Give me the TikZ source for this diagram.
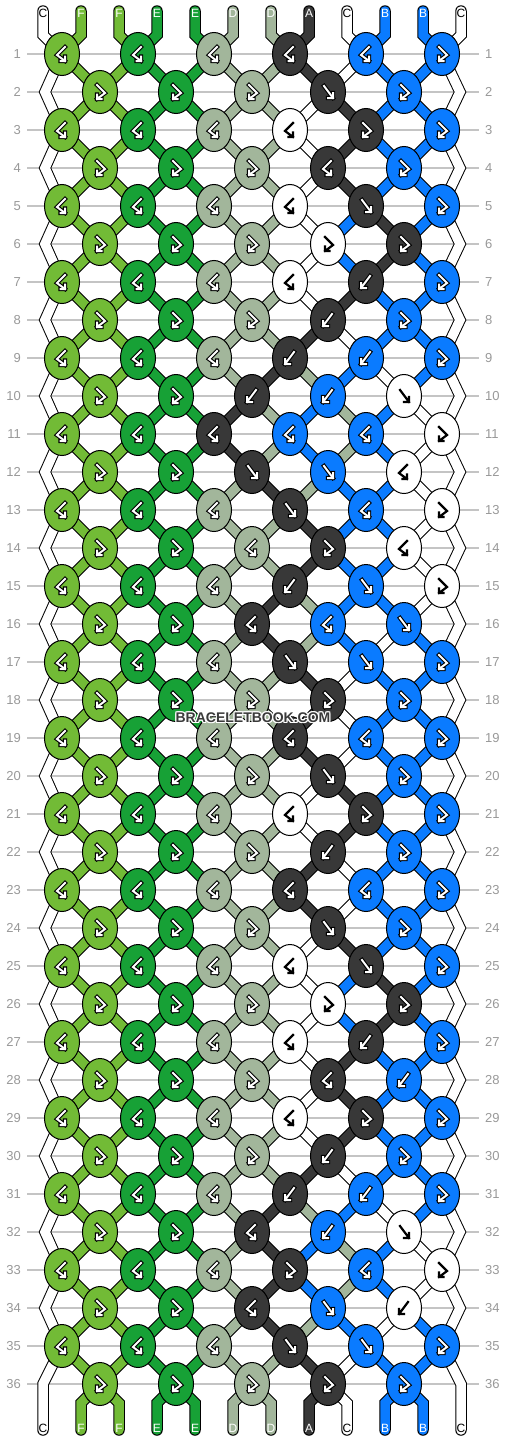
\documentclass[tikz,border=0pt]{standalone}
\usepackage{fontspec}
\setmainfont{Liberation Sans}
\usetikzlibrary{shapes.geometric}

\definecolor{colC}{HTML}{FFFFFF}
\definecolor{colF}{HTML}{72BB36}
\definecolor{colE}{HTML}{17A136}
\definecolor{colD}{HTML}{A2B69B}
\definecolor{colA}{HTML}{383838}
\definecolor{colB}{HTML}{0A7BFF}
\definecolor{rowgrey}{HTML}{C4C4C4}
\definecolor{numgrey}{HTML}{999999}
\definecolor{wmgrey}{HTML}{3A3A3A}

\pgfdeclarelayer{paper}
\pgfdeclarelayer{threads}
\pgfsetlayers{paper,threads,main}

\newcommand{\symdraw}[1]{\draw [symout] #1; \draw [symin] #1;}
\newcommand{\markf}{\symdraw{(-4,-6) -- (5,6) (0,6) -- (5,6) -- (5,1)}}
\newcommand{\markb}{\symdraw{(4,-6) -- (-5,6) (0,6) -- (-5,6) -- (-5,1)}}
\newcommand{\markfb}{\symdraw{(-3,-7) -- (5,1) -- (-3,7) (-3,2.5) -- (-3,7) -- (1.5,7)}}
\newcommand{\markbf}{\symdraw{(3,-7) -- (-5,1) -- (3,7) (3,2.5) -- (3,7) -- (-1.5,7)}}
\newcommand{\knotmark}[3]{%
	\begin{scope}[shift={(#1.center)}, pen #2]
		\csname mark#3\endcsname
	\end{scope}}

% one row of knots: row, colour/type of each knot
\newcommand{\knotrow}[2]{%
	\pgfmathsetmacro\ky{54+38*(#1-1)}%
	\pgfmathtruncatemacro\odd{mod(#1,2)}%
	\pgfmathsetmacro\kx{\odd==1 ? 62 : 100}%
	\foreach \kc/\kt [count=\kn] in {#2} {
		\node [knot=\kc] (k-#1-\kn) at (\kx+76*\kn-76,\ky) {};
		\knotmark{k-#1-\kn}{\kc}{\kt}
	}
	\ifnum\odd=1
		\coordinate (L-#1) at (k-#1-1.center);
		\coordinate (R-#1) at (k-#1-6.center);
	\else
		\coordinate (L-#1) at (45,\ky);
		\coordinate (R-#1) at (460,\ky);
	\fi
}

% threads below a row: row, colours in places 2 to 11
\newcommand{\threadrow}[2]{%
	\pgfmathtruncatemacro\rn{#1+1}%
	\pgfmathtruncatemacro\odd{mod(#1,2)}%
	\foreach \kc [count=\pl from 2] in {#2} {
		\pgfmathtruncatemacro\ka{\odd==1 ? (\pl+1)/2 : \pl/2}
		\pgfmathtruncatemacro\kb{\odd==1 ? \pl/2 : (\pl+1)/2}
		\draw [thread=\kc] (k-#1-\ka.center) -- (k-\rn-\kb.center);
	}
}

\tikzset{
	knot/.style={ellipse, draw=black, line width=1pt, fill=col#1, minimum width=35pt, minimum height=43pt, inner sep=0pt},
	thread/.style={draw=black, line width=1pt, double=col#1, double distance=9.5pt},
	rowline/.style={draw=rowgrey, line width=1.2pt},
	rownum/.style={text=numgrey, font=\fontsize{13}{13}\selectfont, inner sep=0pt},
	lab/.style={font=\fontsize{12}{12}\selectfont, inner sep=0pt, text=white},
	lab C/.style={text=black}, lab F/.style={}, lab E/.style={}, lab D/.style={}, lab A/.style={}, lab B/.style={},
	symout/.style={draw=black, line width=4.2pt, line cap=rect},
	symin/.style={draw=white, line width=2pt, line cap=rect},
	pen C/.style={symout/.style={draw=none}, symin/.style={draw=black, line width=2.2pt, line cap=rect}},
	pen F/.style={}, pen E/.style={}, pen D/.style={}, pen A/.style={}, pen B/.style={},
	wmtext/.style={font=\bfseries\fontsize{14}{14}\selectfont, inner sep=0pt},
}

\begin{document}
\begin{tikzpicture}[x=1pt, y=-1pt]
	\begin{pgfonlayer}{paper}
		\fill [white] (0,0) rectangle (506,1440);
	\end{pgfonlayer}
	\useasboundingbox (0,0) rectangle (506,1440);
	
	% knots
	\knotrow{1}{F/bf,E/bf,D/bf,A/bf,B/bf,B/fb}
	\knotrow{2}{F/fb,E/fb,D/fb,A/f,B/fb}
	\knotrow{3}{F/bf,E/bf,D/bf,C/bf,A/fb,B/fb}
	\knotrow{4}{F/fb,E/fb,D/fb,A/bf,B/fb}
	\knotrow{5}{F/bf,E/bf,D/bf,C/bf,A/f,B/fb}
	\knotrow{6}{F/fb,E/fb,D/fb,C/fb,A/fb}
	\knotrow{7}{F/bf,E/bf,D/bf,C/bf,A/b,B/fb}
	\knotrow{8}{F/fb,E/fb,D/fb,A/b,B/fb}
	\knotrow{9}{F/bf,E/bf,D/bf,A/b,B/b,B/fb}
	\knotrow{10}{F/fb,E/fb,A/b,B/b,C/f}
	\knotrow{11}{F/bf,E/bf,A/bf,B/bf,B/bf,C/fb}
	\knotrow{12}{F/fb,E/fb,A/f,B/f,C/bf}
	\knotrow{13}{F/bf,E/bf,D/bf,A/f,B/bf,C/fb}
	\knotrow{14}{F/fb,E/fb,D/bf,A/fb,C/bf}
	\knotrow{15}{F/bf,E/bf,D/bf,A/b,B/f,C/fb}
	\knotrow{16}{F/fb,E/fb,A/bf,B/bf,B/f}
	\knotrow{17}{F/bf,E/bf,D/bf,A/f,B/f,B/fb}
	\knotrow{18}{F/fb,E/fb,D/fb,A/fb,B/fb}
	\knotrow{19}{F/bf,E/bf,D/bf,A/bf,B/bf,B/fb}
	\knotrow{20}{F/fb,E/fb,D/fb,A/f,B/fb}
	\knotrow{21}{F/bf,E/bf,D/bf,C/bf,A/fb,B/fb}
	\knotrow{22}{F/fb,E/fb,D/fb,A/b,B/fb}
	\knotrow{23}{F/bf,E/bf,D/bf,A/bf,B/bf,B/fb}
	\knotrow{24}{F/fb,E/fb,D/fb,A/f,B/fb}
	\knotrow{25}{F/bf,E/bf,D/bf,C/bf,A/f,B/fb}
	\knotrow{26}{F/fb,E/fb,D/fb,C/fb,A/fb}
	\knotrow{27}{F/bf,E/bf,D/bf,C/bf,A/b,B/fb}
	\knotrow{28}{F/fb,E/fb,D/fb,A/bf,B/b}
	\knotrow{29}{F/bf,E/bf,D/bf,C/bf,A/fb,B/fb}
	\knotrow{30}{F/fb,E/fb,D/fb,A/b,B/fb}
	\knotrow{31}{F/bf,E/bf,D/bf,A/b,B/b,B/fb}
	\knotrow{32}{F/fb,E/fb,A/bf,B/b,C/f}
	\knotrow{33}{F/bf,E/bf,D/bf,A/fb,B/bf,C/fb}
	\knotrow{34}{F/fb,E/fb,A/bf,B/f,C/b}
	\knotrow{35}{F/bf,E/bf,D/bf,A/f,B/f,B/fb}
	\knotrow{36}{F/fb,E/fb,D/fb,A/fb,B/fb}
	
	\begin{pgfonlayer}{threads}
		\foreach \rw in {1,...,36} {
			\pgfmathsetmacro\ky{54+38*(\rw-1)}
			\draw [rowline] (27,\ky) -- (479,\ky);
			\node [rownum, anchor=east] (nl-\rw) at (21,\ky) {\rw};
			\node [rownum, anchor=west] (nr-\rw) at (485,\ky) {\rw};
		}
		
		% threads between knots
		\threadrow{1}{F,F,E,E,D,D,A,C,B,B}
		\threadrow{2}{F,F,E,E,D,D,C,A,B,B}
		\threadrow{3}{F,F,E,E,D,D,C,A,B,B}
		\threadrow{4}{F,F,E,E,D,D,C,A,B,B}
		\threadrow{5}{F,F,E,E,D,D,C,B,A,B}
		\threadrow{6}{F,F,E,E,D,D,C,B,A,B}
		\threadrow{7}{F,F,E,E,D,D,C,A,B,B}
		\threadrow{8}{F,F,E,E,D,D,A,C,B,B}
		\threadrow{9}{F,F,E,E,D,A,D,B,C,B}
		\threadrow{10}{F,F,E,E,A,D,B,D,B,C}
		\threadrow{11}{F,F,E,E,A,D,B,D,B,C}
		\threadrow{12}{F,F,E,E,D,A,D,B,B,C}
		\threadrow{13}{F,F,E,E,D,D,A,B,B,C}
		\threadrow{14}{F,F,E,E,D,D,A,B,B,C}
		\threadrow{15}{F,F,E,E,D,A,D,B,B,C}
		\threadrow{16}{F,F,E,E,D,A,D,B,C,B}
		\threadrow{17}{F,F,E,E,D,D,A,C,B,B}
		\threadrow{18}{F,F,E,E,D,D,A,C,B,B}
		\threadrow{19}{F,F,E,E,D,D,A,C,B,B}
		\threadrow{20}{F,F,E,E,D,D,C,A,B,B}
		\threadrow{21}{F,F,E,E,D,D,C,A,B,B}
		\threadrow{22}{F,F,E,E,D,D,A,C,B,B}
		\threadrow{23}{F,F,E,E,D,D,A,C,B,B}
		\threadrow{24}{F,F,E,E,D,D,C,A,B,B}
		\threadrow{25}{F,F,E,E,D,D,C,B,A,B}
		\threadrow{26}{F,F,E,E,D,D,C,B,A,B}
		\threadrow{27}{F,F,E,E,D,D,C,A,B,B}
		\threadrow{28}{F,F,E,E,D,D,C,A,B,B}
		\threadrow{29}{F,F,E,E,D,D,C,A,B,B}
		\threadrow{30}{F,F,E,E,D,D,A,C,B,B}
		\threadrow{31}{F,F,E,E,D,A,D,B,C,B}
		\threadrow{32}{F,F,E,E,D,A,B,D,B,C}
		\threadrow{33}{F,F,E,E,D,A,B,D,B,C}
		\threadrow{34}{F,F,E,E,D,A,D,B,C,B}
		\threadrow{35}{F,F,E,E,D,D,A,C,B,B}
		
		% edge threads
		\draw [thread=C, line cap=round] (43,11) -- (43,35) \foreach \rw in {1,...,35} {-- (L-\rw)} -- (43,1384) -- (43,1430);
		\draw [thread=C, line cap=round] (461,11) -- (461,35) \foreach \rw in {1,...,35} {-- (R-\rw)} -- (461,1384) -- (461,1430);
		
		% loose ends
		\foreach \kc [count=\pl from 2] in {F,F,E,E,D,D,A,C,B,B} {
			\pgfmathsetmacro\sx{5+38*\pl}
			\pgfmathtruncatemacro\ka{(\pl+1)/2}
			\pgfmathtruncatemacro\kb{\pl/2}
			\draw [thread=\kc, line cap=round] (\sx,11) -- (\sx,35) -- (k-1-\ka.center);
			\draw [thread=\kc, line cap=round] (k-36-\kb.center) -- (\sx,1403) -- (\sx,1430);
		}
	\end{pgfonlayer}
	
	\foreach \kc [count=\pl] in {C,F,F,E,E,D,D,A,C,B,B,C} {
		\pgfmathsetmacro\sx{5+38*\pl}
		\node [lab, lab \kc] (top-\pl) at (\sx,13) {\kc};
		\node [lab, lab \kc] (bot-\pl) at (\sx,1428) {\kc};
	}
	
	\foreach \wx/\wy [count=\wi] in {254/718,252/718,253/719,253/717,254/719,254/717,252/719,252/717} {
		\node [wmtext, text=white] (wm-\wi) at (\wx,\wy) {BRACELETBOOK.COM};
	}
	\node [wmtext, text=wmgrey] (wm) at (253,718) {BRACELETBOOK.COM};
\end{tikzpicture}
\end{document}
